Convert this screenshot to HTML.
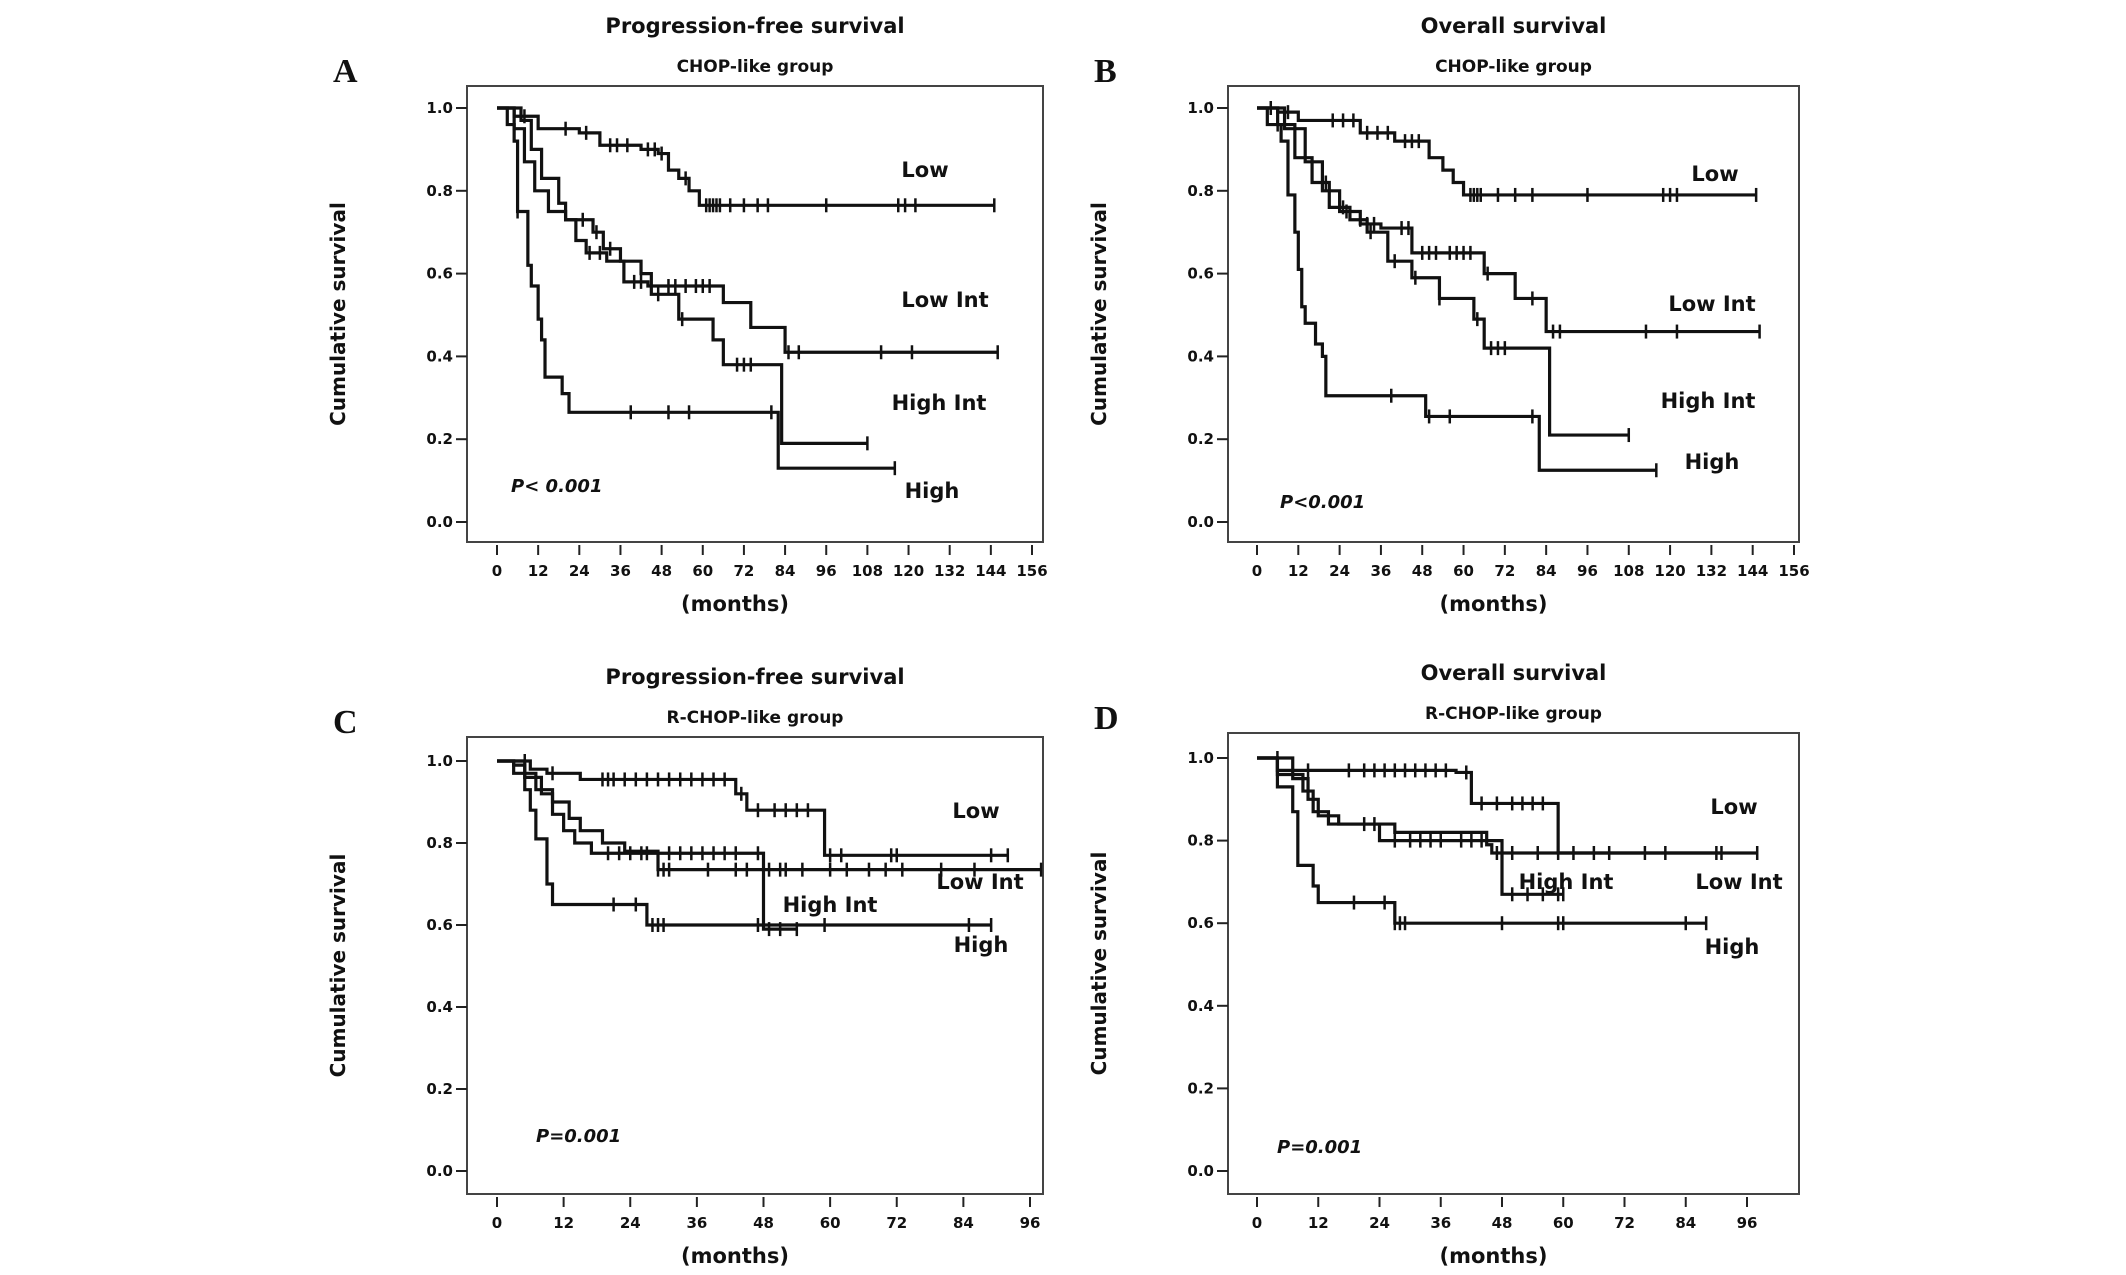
<!DOCTYPE html>
<html><head><meta charset="utf-8"><style>
html,body{margin:0;padding:0;background:#fff;}
svg{display:block;}
text{font-family:"DejaVu Sans","Liberation Sans",sans-serif;fill:#111;}
text.serif{font-family:"Liberation Serif","DejaVu Serif",serif;}
</style></head><body>
<svg id="fig" width="2126" height="1275" viewBox="0 0 2126 1275" xmlns="http://www.w3.org/2000/svg"></svg>
<script>
// ---- Panel A: PFS, CHOP-like ----
const A_low_t=[5,12,24,30,42,47,50,53,56,59];
const A_low_s=[0.98,0.95,0.94,0.91,0.90,0.89,0.85,0.83,0.80,0.765];
const A_low_end=145;
const A_low_c=[8,20,26,33,35,38,44,46,48,55,61,62,63,64,65,68,72,76,79,96,117,119,122,145];
const A_lint_t=[5,8,11,15,20,23,26,32,37,44,66,74,84];
const A_lint_s=[0.95,0.87,0.80,0.75,0.73,0.68,0.65,0.63,0.58,0.57,0.53,0.47,0.41];
const A_lint_end=146;
const A_lint_c=[27,30,40,42,50,52,55,58,60,62,85,88,112,121,146];
const A_hint_t=[7,10,13,18,20,28,31,36,42,45,53,63,66,83];
const A_hint_s=[0.97,0.90,0.83,0.77,0.73,0.70,0.66,0.63,0.60,0.55,0.49,0.44,0.38,0.19];
const A_hint_end=108;
const A_hint_c=[25,29,33,47,54,70,72,74,108];
const A_high_t=[3,5,6,9,10,12,13,14,19,21,82];
const A_high_s=[0.96,0.92,0.75,0.62,0.57,0.49,0.44,0.35,0.31,0.265,0.13];
const A_high_end=116;
const A_high_c=[6,39,50,56,80,116];
// ---- Panel B: OS, CHOP-like ----
const B_low_t=[6,12,30,40,50,54,57,60];
const B_low_s=[0.99,0.97,0.94,0.92,0.88,0.85,0.82,0.79];
const B_low_end=145;
const B_low_c=[4,9,22,25,28,32,35,38,43,45,47,62,63,64,65,70,75,80,96,118,120,122,145];
const B_lint_t=[8,14,19,24,30,36,45,66,75,84];
const B_lint_s=[0.95,0.87,0.80,0.75,0.72,0.71,0.65,0.60,0.54,0.46];
const B_lint_end=146;
const B_lint_c=[26,32,34,42,44,48,50,52,56,58,60,62,67,80,86,88,113,122,146];
const B_hint_t=[6,11,16,21,27,32,38,45,53,63,66,85];
const B_hint_s=[0.96,0.88,0.82,0.76,0.73,0.70,0.63,0.59,0.54,0.49,0.42,0.21];
const B_hint_end=108;
const B_hint_c=[20,25,30,33,40,46,53,64,68,70,72,108];
const B_high_t=[3,7,9,11,12,13,14,17,19,20,49,82];
const B_high_s=[0.96,0.92,0.79,0.70,0.61,0.52,0.48,0.43,0.40,0.305,0.255,0.125];
const B_high_end=116;
const B_high_c=[6,39,50,56,80,116];
// ---- Panel C: PFS, R-CHOP-like ----
const C_low_t=[6,9,15,43,45,59];
const C_low_s=[0.98,0.97,0.955,0.92,0.88,0.77];
const C_low_end=92;
const C_low_c=[5,10,19,20,21,23,25,27,29,31,33,35,37,39,41,44,47,50,52,54,56,60,62,71,72,89,92];
const C_lint_t=[5,7,10,13,15,19,23,29];
const C_lint_s=[0.97,0.93,0.90,0.86,0.83,0.80,0.78,0.735];
const C_lint_end=98;
const C_lint_c=[29,30,31,38,43,45,49,51,52,55,60,63,67,70,73,80,86,98];
const C_hint_t=[3,5,8,10,12,14,17,48];
const C_hint_s=[0.99,0.96,0.92,0.87,0.83,0.80,0.775,0.59];
const C_hint_end=54;
const C_hint_c=[20,22,24,26,27,31,33,35,37,39,41,43,47,49,51,54];
const C_high_t=[3,5,6,7,9,10,27];
const C_high_s=[0.97,0.93,0.88,0.81,0.70,0.65,0.60];
const C_high_end=89;
const C_high_c=[21,25,28,29,30,47,59,85,89];
// ---- Panel D: OS, R-CHOP-like ----
const D_low_t=[7,39,42,59];
const D_low_s=[0.97,0.965,0.89,0.77];
const D_low_end=91;
const D_low_c=[4,10,18,21,23,25,27,29,31,33,35,37,41,44,47,50,52,54,56,91];
const D_lint_t=[4,7,10,12,16,27,45,46];
const D_lint_s=[0.97,0.95,0.90,0.86,0.84,0.82,0.79,0.77];
const D_lint_end=98;
const D_lint_c=[47,50,55,59,62,66,69,76,80,90,98];
const D_hint_t=[4,9,11,14,24,48];
const D_hint_s=[0.96,0.92,0.87,0.84,0.80,0.67];
const D_hint_end=60;
const D_hint_c=[21,23,27,30,32,34,36,40,42,44,50,53,56,59,60];
const D_high_t=[4,7,8,11,12,27];
const D_high_s=[0.93,0.87,0.74,0.69,0.65,0.60];
const D_high_end=88;
const D_high_c=[19,25,27,28,29,48,59,60,84,88];

const xTicks156=[0,12,24,36,48,60,72,84,96,108,120,132,144,156];
const xTicks96=[0,12,24,36,48,60,72,84,96];
const yTicks=[0,0.2,0.4,0.6,0.8,1.0];

const NS='http://www.w3.org/2000/svg';
const svg=document.getElementById('fig');
function mk(tag,attrs,parent){const e=document.createElementNS(NS,tag);for(const k in attrs)e.setAttribute(k,attrs[k]);(parent||svg).appendChild(e);return e;}
function txt(s,x,y,size,opts,parent){const e=mk('text',Object.assign({x:x,y:y,'font-size':size,'text-anchor':'middle','font-weight':'bold'},opts||{}),parent);e.textContent=s;return e;}

const panels=[
 {id:'a',letter:'A',title:'Progression-free survival',sub:'CHOP-like group',box:[467,86,1043,542],x0:497,x1:1032,xmax:156,y1:108,y0:522,xt:xTicks156,p:'P< 0.001',pp:[511,492],
  series:[['low','Low',A_low_t,A_low_s,A_low_end,A_low_c,[925,177]],['low-int','Low Int',A_lint_t,A_lint_s,A_lint_end,A_lint_c,[945,307]],['high-int','High Int',A_hint_t,A_hint_s,A_hint_end,A_hint_c,[939,410]],['high','High',A_high_t,A_high_s,A_high_end,A_high_c,[932,498]]]},
 {id:'b',letter:'B',title:'Overall survival',sub:'CHOP-like group',box:[1228,86,1799,542],x0:1257,x1:1794,xmax:156,y1:108,y0:522,xt:xTicks156,p:'P<0.001',pp:[1280,508],
  series:[['low','Low',B_low_t,B_low_s,B_low_end,B_low_c,[1715,181]],['low-int','Low Int',B_lint_t,B_lint_s,B_lint_end,B_lint_c,[1712,311]],['high-int','High Int',B_hint_t,B_hint_s,B_hint_end,B_hint_c,[1708,408]],['high','High',B_high_t,B_high_s,B_high_end,B_high_c,[1712,469]]]},
 {id:'c',letter:'C',title:'Progression-free survival',sub:'R-CHOP-like group',box:[467,737,1043,1194],x0:497,x1:1030,xmax:96,y1:761,y0:1171,xt:xTicks96,p:'P=0.001',pp:[536,1142],
  series:[['low','Low',C_low_t,C_low_s,C_low_end,C_low_c,[976,818]],['low-int','Low Int',C_lint_t,C_lint_s,C_lint_end,C_lint_c,[980,889]],['high-int','High Int',C_hint_t,C_hint_s,C_hint_end,C_hint_c,[830,912]],['high','High',C_high_t,C_high_s,C_high_end,C_high_c,[981,952]]]},
 {id:'d',letter:'D',title:'Overall survival',sub:'R-CHOP-like group',box:[1228,733,1799,1194],x0:1257,x1:1747,xmax:96,y1:758,y0:1171,xt:xTicks96,p:'P=0.001',pp:[1277,1153],
  series:[['low','Low',D_low_t,D_low_s,D_low_end,D_low_c,[1734,814]],['low-int','Low Int',D_lint_t,D_lint_s,D_lint_end,D_lint_c,[1739,889]],['high-int','High Int',D_hint_t,D_hint_s,D_hint_end,D_hint_c,[1566,889]],['high','High',D_high_t,D_high_s,D_high_end,D_high_c,[1732,954]]]}
];

panels.forEach(P=>{
  const g=mk('g',{});
  
  
  const X=t=>P.x0+(P.x1-P.x0)*t/P.xmax;
  const Y=s=>P.y0+(P.y1-P.y0)*s;
  const [bx0,by0,bx1,by1]=P.box;
  const cx=(bx0+bx1)/2;
  const t1=txt(P.title,cx,by0-53,21,{},g);
  
  
  const t2=txt(P.sub,cx,by0-14,17,{},g);
  
  
  const L=txt(P.letter,bx0-134,by0-4,34,{'text-anchor':'start','class':'serif'},g);
  
  
  const box=mk('rect',{x:bx0,y:by0,width:bx1-bx0,height:by1-by0,fill:'none',stroke:'#444','stroke-width':2},g);
  
  
  yTicks.forEach(v=>{
    const y=Y(v);
    mk('line',{x1:bx0-11,x2:bx0,y1:y,y2:y,stroke:'#222','stroke-width':2},g);
    const tl=txt(v.toFixed(1),bx0-14,y+5,15,{'text-anchor':'end'},g);
    
    
  });
  P.xt.forEach(v=>{
    const x=X(v);
    mk('line',{x1:x,x2:x,y1:by1+3,y2:by1+13,stroke:'#222','stroke-width':2},g);
    const tl=txt(String(v),x,by1+34,15,{},g);
    
    
  });
  const xt=txt('(months)',cx-20,by1+69,21,{},g);
  
  
  const yy=(by0+by1)/2;
  const ytl=txt('Cumulative  survival',bx0-122,yy,20,{transform:'rotate(-90 '+(bx0-122)+' '+yy+')'},g);
  
  
  const pv=txt(P.p,P.pp[0],P.pp[1],18,{'font-style':'italic','text-anchor':'start'},g);
  
  
  P.series.forEach(([sid,label,T,S,end,C,lp])=>{
    let d='M'+X(0)+','+Y(1);
    for(let i=0;i<T.length;i++){d+=' H'+X(T[i])+' V'+Y(S[i]);}
    d+=' H'+X(end);
    const path=mk('path',{d:d,fill:'none',stroke:'#111','stroke-width':3.2},g);
    
    
    const sAt=t=>{let s=1;for(let i=0;i<T.length;i++){if(T[i]<=t)s=S[i];}return s;};
    C.forEach(t=>{
      const cm=mk('line',{x1:X(t),x2:X(t),y1:Y(sAt(t))-7,y2:Y(sAt(t))+7,stroke:'#111','stroke-width':2.5},g);
      
      
    });
    const lb=txt(label,lp[0],lp[1],21,{'text-anchor':'middle'},g);
    
    
  });
});
</script>
</body></html>
